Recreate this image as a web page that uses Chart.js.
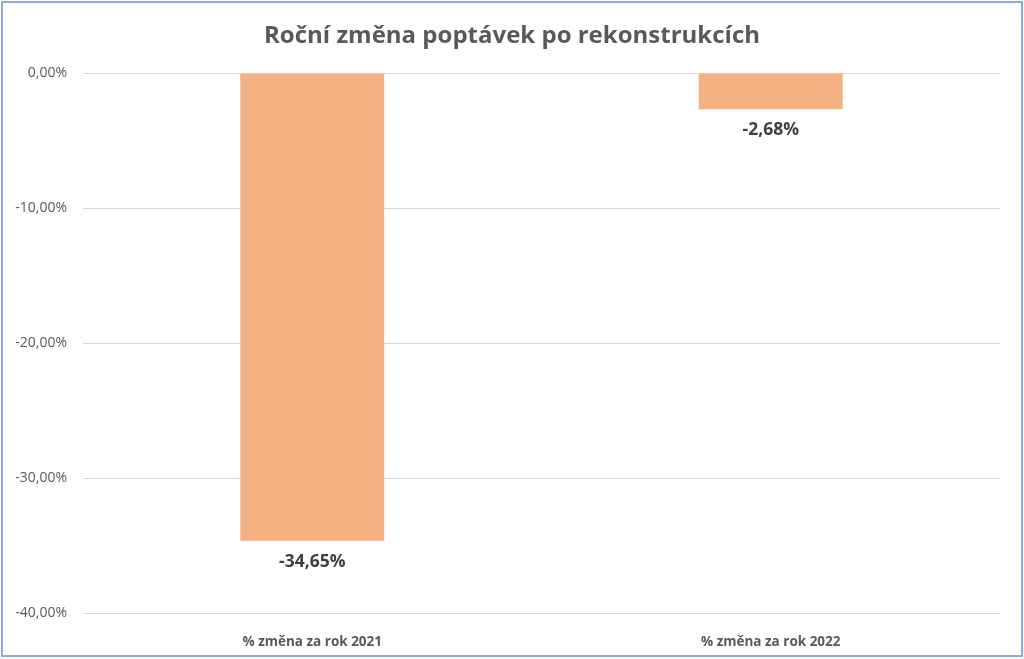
<!DOCTYPE html>
<html><head><meta charset="utf-8">
<script src="https://cdn.jsdelivr.net/npm/chart.js@4/dist/chart.umd.min.js"></script>
<style>html,body{margin:0;padding:0;background:#fff}#wrap{width:1024px;height:659px;position:relative}</style>
</head><body><div id="wrap"><canvas id="c" width="1024" height="659"></canvas></div>
<script>
const categories = ["% změna za rok 2021", "% změna za rok 2022"];
const values = [-34.65, -2.68];
const yTicks = [0, -10, -20, -30, -40];
const titleText = "Roční změna poptávek po rekonstrukcích";

const fmt = v => v.toFixed(2).replace('.', ',') + '%';
const FONT = "'Open Sans', sans-serif";

const borderPlugin = {
  id: 'frame',
  afterDraw(chart) {
    const ctx = chart.ctx;
    ctx.save();
    ctx.strokeStyle = '#8eaadb';
    ctx.lineWidth = 2;
    ctx.strokeRect(2, 2, chart.width - 4, chart.height - 5);
    ctx.restore();
  }
};
const labelPlugin = {
  id: 'vals',
  afterDatasetsDraw(chart) {
    const ctx = chart.ctx;
    const meta = chart.getDatasetMeta(0);
    ctx.save();
    ctx.font = "bold 17.5px " + FONT;
    ctx.fillStyle = '#404040';
    ctx.textAlign = 'center';
    ctx.textBaseline = 'middle';
    meta.data.forEach((bar, i) => {
      ctx.fillText(fmt(values[i]), bar.x, bar.y + 21);
    });
    ctx.restore();
  }
};

new Chart(document.getElementById('c'), {
  type: 'bar',
  data: { labels: categories, datasets: [{ data: values, backgroundColor: '#f4b183', categoryPercentage: 1, barPercentage: 0.314 }] },
  options: {
    responsive: false, animation: false,
    layout: { padding: 0 },
    plugins: {
      legend: { display: false }, tooltip: { enabled: false },
      title: { display: true, text: titleText, color: '#595959', font: { family: FONT, size: 24, weight: 'bold', lineHeight: 1 }, padding: { top: 24, bottom: 25 } }
    },
    scales: {
      y: {
        min: -40, max: 0,
        afterFit: s => { s.width = 83; },
        afterBuildTicks: s => { s.ticks = yTicks.map(v => ({ value: v })); },
        ticks: { color: '#595959', font: { family: FONT, size: 14 }, padding: 16, callback: v => fmt(v) },
        grid: { color: '#d9d9d9', drawTicks: false },
        border: { display: false }
      },
      yRightSpace: {
        position: 'right', display: true,
        afterFit: s => { s.width = 24; },
        ticks: { display: false },
        grid: { display: false, drawTicks: false },
        border: { display: false }
      },
      x: {
        afterFit: s => { s.height = 46; },
        ticks: { color: '#595959', font: { family: FONT, size: 13.5, weight: 'bold' }, padding: 13 },
        grid: { display: false },
        border: { display: false }
      }
    }
  },
  plugins: [borderPlugin, labelPlugin]
});
</script></body></html>
